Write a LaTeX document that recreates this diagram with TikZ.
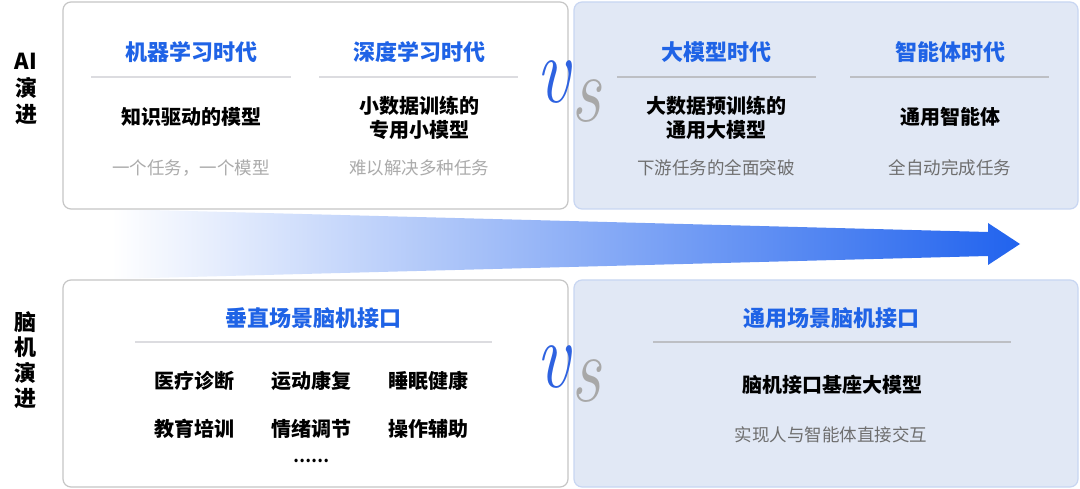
\documentclass[tikz,border=0pt]{standalone}
\usepackage{graphicx}
\usepackage{fontspec}
\newfontfamily\cjk{Noto Sans CJK SC}
\definecolor{tblue}{HTML}{1F63E6}
\definecolor{arrowblue}{HTML}{2163EE}
\definecolor{arrowmid}{HTML}{A2BEF5}
\definecolor{boxgray}{HTML}{C6C6C6}
\definecolor{boxblue}{HTML}{C8D6F2}
\definecolor{boxfill}{HTML}{E1E8F5}
\definecolor{lgray}{HTML}{ABABAB}
\definecolor{dgray}{HTML}{6E6E6E}
\definecolor{divl}{HTML}{DCDCE0}
\definecolor{divr}{HTML}{BDBFC4}
\definecolor{vblue}{HTML}{2E62E0}
\definecolor{sgray}{HTML}{A8A8A8}
\newcommand{\vsglyph}[1]{\scalebox{0.78}[1]{\fontsize{95}{95}\selectfont\itshape #1}}
\tikzset{
  lbox/.style={draw=boxgray, fill=white, line width=1.2pt, rounded corners=8pt, inner sep=0pt},
  rbox/.style={draw=boxblue, fill=boxfill, line width=1.2pt, rounded corners=8pt, inner sep=0pt},
  ttl/.style={font=\cjk\bfseries\fontsize{22}{26}\selectfont, text=tblue, inner sep=0pt},
  mtext/.style={font=\cjk\bfseries\fontsize{20}{24}\selectfont, align=center, text=black, inner sep=0pt},
  subl/.style={font=\cjk\fontsize{17.5}{21}\selectfont, text=lgray, inner sep=0pt},
  subr/.style={font=\cjk\fontsize{17.5}{21}\selectfont, text=dgray, inner sep=0pt},
  side/.style={font=\cjk\bfseries\fontsize{22}{26}\selectfont, align=center, text=black, inner sep=0pt},
  dvl/.style={draw=divl, line width=1.5pt},
  dvr/.style={draw=divr, line width=1.2pt},
  vtxt/.style={text=vblue, inner sep=0pt},
  stxt/.style={text=sgray, inner sep=0pt},
}
\begin{document}
\begin{tikzpicture}[x=1pt,y=-1pt]
\useasboundingbox[fill=white] (0,0) rectangle (1080,489);
% arrow
\shade[left color=white, middle color=arrowmid, right color=arrowblue]
  (112,209) -- (988,232) -- (988,223) -- (1020,244) -- (988,265) -- (988,256) -- (112,279) -- cycle;
% boxes
\node[lbox, minimum width=505pt, minimum height=207pt] (b1) at (315.5,105.5) {};
\node[rbox, minimum width=504pt, minimum height=207pt] (b2) at (826,105.5) {};
\node[lbox, minimum width=505pt, minimum height=207pt] (b3) at (315.5,383.5) {};
\node[rbox, minimum width=504pt, minimum height=207pt] (b4) at (826,383.5) {};
% side labels
\node[side, font=\cjk\bfseries\fontsize{22}{26.5}\selectfont] (ai) at (26,89) {AI\\演\\进};
\node[side, font=\cjk\bfseries\fontsize{22}{25.5}\selectfont] (bci) at (25,360) {脑\\机\\演\\进};
% top-left box
\node[ttl] (t1) at (191,52) {机器学习时代};
\draw[dvl] (91,77) -- (291,77);
\node[mtext] (m1) at (191,117) {知识驱动的模型};
\node[subl] (s1) at (191,168) {一个任务，一个模型};
\node[ttl] (t2) at (419,52) {深度学习时代};
\draw[dvl] (319,77) -- (518,77);
\node[mtext] (m2) at (419,118) {小数据训练的\\专用小模型};
\node[subl] (s2) at (419,168) {难以解决多种任务};
% top-right box
\node[ttl] (t3) at (716,52) {大模型时代};
\draw[dvr] (617,77) -- (816,77);
\node[mtext] (m3) at (716,118) {大数据预训练的\\通用大模型};
\node[subr] (s3) at (716,168) {下游任务的全面突破};
\node[ttl] (t4) at (950,52) {智能体时代};
\draw[dvr] (850,77) -- (1049,77);
\node[mtext] (m4) at (950,117) {通用智能体};
\node[subr] (s4) at (950,168) {全自动完成任务};
% bottom-left box
\node[ttl] (t5) at (313,318) {垂直场景脑机接口};
\draw[dvl] (135,342) -- (492,342);
\node[mtext] (i1) at (194,381) {医疗诊断};
\node[mtext] (i2) at (311,381) {运动康复};
\node[mtext] (i3) at (428,381) {睡眠健康};
\node[mtext] (i4) at (194,429) {教育培训};
\node[mtext] (i5) at (311,429) {情绪调节};
\node[mtext] (i6) at (428,429) {操作辅助};
\node[mtext, font=\cjk\bfseries\fontsize{16}{20}\selectfont] (dots) at (311,461) {……};
% bottom-right box
\node[ttl] (t6) at (831,318) {通用场景脑机接口};
\draw[dvr] (653,342) -- (1011,342);
\node[mtext] (m6) at (832,385) {脑机接口基座大模型};
\node[subr] (s6) at (831,435) {实现人与智能体直接交互};
% vs
\node[vtxt] (v1) at (553,82) {\vsglyph{v}};
\node[stxt] (vs1) at (586,101) {\vsglyph{s}};
\node[vtxt] (v2) at (553,367) {\vsglyph{v}};
\node[stxt] (vs2) at (586,381) {\vsglyph{s}};
\end{tikzpicture}
\end{document}
